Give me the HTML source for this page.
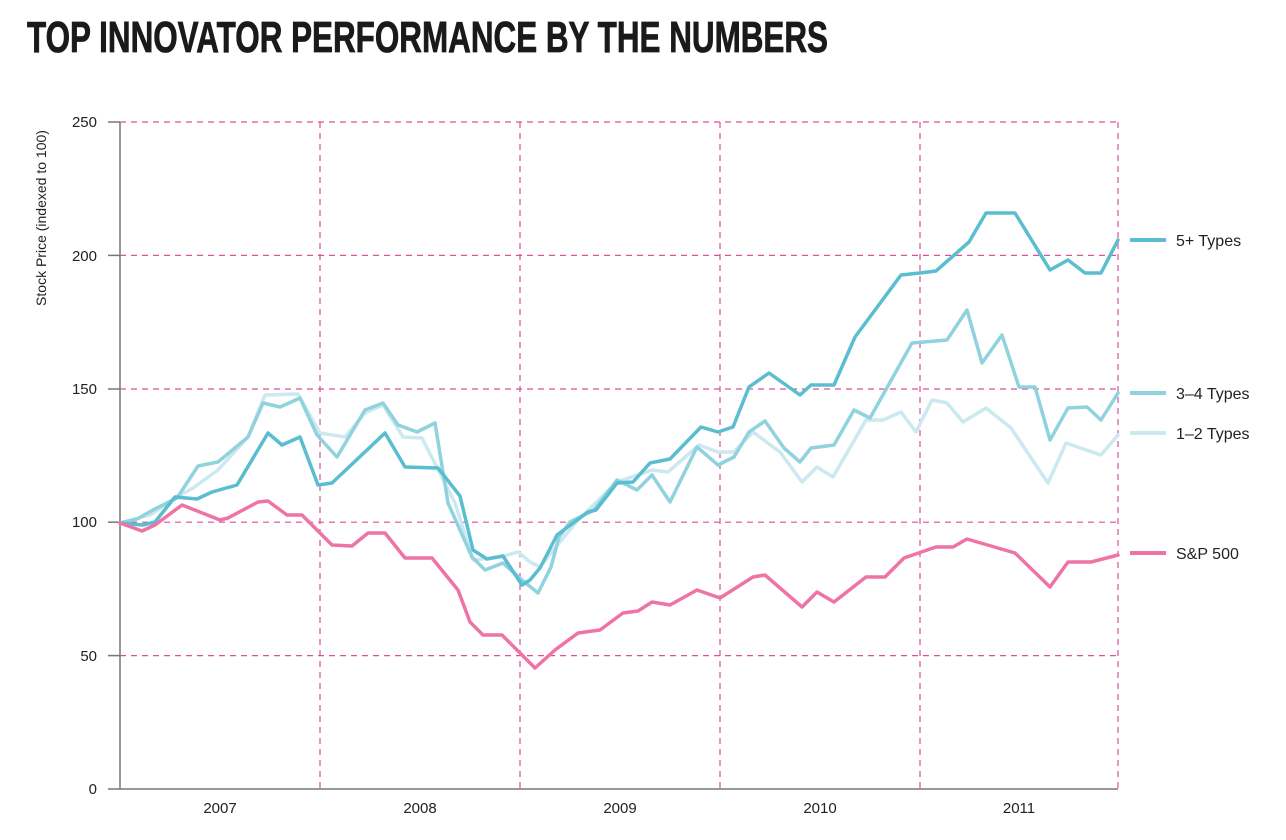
<!DOCTYPE html>
<html><head><meta charset="utf-8"><style>body{margin:0;background:#fff}svg{display:block}</style></head>
<body>
<svg width="1286" height="840" viewBox="0 0 1286 840" xmlns="http://www.w3.org/2000/svg" font-family="Liberation Sans, sans-serif">
<text x="27" y="52" font-family="Liberation Sans Narrow, Liberation Sans, sans-serif" font-weight="bold" font-size="44" fill="#1a1a1a" stroke="#1a1a1a" stroke-width="0.8" textLength="801" lengthAdjust="spacingAndGlyphs">TOP INNOVATOR PERFORMANCE BY THE NUMBERS</text>
<g stroke="#d9529a" stroke-width="1.2" stroke-dasharray="6,5" fill="none">
<line x1="120" y1="122" x2="1118" y2="122"/><line x1="120" y1="255.4" x2="1118" y2="255.4"/><line x1="120" y1="389" x2="1118" y2="389"/><line x1="120" y1="522.2" x2="1118" y2="522.2"/><line x1="120" y1="655.6" x2="1118" y2="655.6"/>
<line x1="320" y1="122" x2="320" y2="789"/><line x1="520" y1="122" x2="520" y2="789"/><line x1="720" y1="122" x2="720" y2="789"/><line x1="920" y1="122" x2="920" y2="789"/><line x1="1118" y1="122" x2="1118" y2="789"/>
</g>
<g stroke="#777" stroke-width="1.5">
<line x1="120" y1="122" x2="120" y2="789"/><line x1="120" y1="789" x2="1118" y2="789"/>
<line x1="108" y1="122" x2="120" y2="122"/><line x1="108" y1="255.4" x2="120" y2="255.4"/><line x1="108" y1="389" x2="120" y2="389"/><line x1="108" y1="522.2" x2="120" y2="522.2"/><line x1="108" y1="655.6" x2="120" y2="655.6"/><line x1="108" y1="789" x2="120" y2="789"/>
</g>
<g font-size="15" fill="#222" text-anchor="end">
<text x="97" y="127">250</text><text x="97" y="261">200</text><text x="97" y="394">150</text><text x="97" y="527">100</text><text x="97" y="661">50</text><text x="97" y="794">0</text>
</g>
<g font-size="15" fill="#222" text-anchor="middle">
<text x="220" y="813">2007</text><text x="420" y="813">2008</text><text x="620" y="813">2009</text><text x="820" y="813">2010</text><text x="1019" y="813">2011</text>
</g>
<text transform="translate(46,218) rotate(-90)" font-size="14" fill="#222" text-anchor="middle">Stock Price (indexed to 100)</text>
<g fill="none" stroke-width="3.5" stroke-linejoin="round" stroke-linecap="round">
<polyline stroke="#cbe9f0" points="120,523 150,515 177,497 193,488 218,470 248,437 265,395 298,394 320,433 345,437 365,413 383,405 403,437 422,438 455,503 473,560 500,557 518,552 530,562 540,567 559,543 578,520 617,482 652,470 668,472 699,445 718,452 734,452 753,432 780,452 802,482 817,467 833,477 866,420 883,420 901,412 916,432 932,400 947,403 963,422 986,408 1011,428 1048,483 1066,443 1101,455 1118,435"/>
<polyline stroke="#91d2df" points="120,523 137,519 153,510 177,498 198,466 218,462 248,437 263,403 280,407 300,398 317,435 337,457 365,410 383,403 398,425 417,432 435,423 448,503 472,557 485,570 503,563 522,580 538,593 551,567 559,537 570,522 594,510 617,480 637,490 652,475 670,502 697,447 718,465 734,457 749,432 765,421 784,448 800,462 811,448 834,445 854,410 870,418 912,343 947,340 967,310 982,363 1002,335 1019,387 1035,387 1050,440 1068,408 1087,407 1101,420 1118,393"/>
<polyline stroke="#5bbdd0" points="120,523 143,525 155,522 175,497 197,499 212,492 237,485 268,433 282,445 300,437 318,485 332,483 385,433 405,467 438,468 460,496 473,550 487,559 503,556 522,585 530,580 540,568 557,535 588,512 596,510 617,483 633,482 650,463 670,459 701,427 718,432 733,427 749,387 769,373 800,395 811,385 834,385 855,337 901,275 920,273 936,271 969,242 986,213 1015,213 1050,270 1068,260 1085,273 1101,273 1118,240"/>
<polyline stroke="#ef74a6" points="120,523 142,531 155,525 182,505 220,520 228,518 258,502 268,501 287,515 302,515 332,545 352,546 368,533 385,533 405,558 432,558 458,590 470,622 483,635 502,635 535,668 555,650 578,633 600,630 623,613 638,611 652,602 670,605 697,590 720,598 753,577 765,575 802,607 817,592 834,602 866,577 885,577 904,558 936,547 953,547 967,539 1015,553 1050,587 1068,562 1091,562 1118,555"/>
</g>
<g stroke-width="4">
<line x1="1130" y1="240" x2="1166" y2="240" stroke="#5bbdd0"/>
<line x1="1130" y1="393" x2="1166" y2="393" stroke="#91d2df"/>
<line x1="1130" y1="433" x2="1166" y2="433" stroke="#cbe9f0"/>
<line x1="1130" y1="553" x2="1166" y2="553" stroke="#ef74a6"/>
</g>
<g font-size="16" fill="#222">
<text x="1176" y="246">5+ Types</text><text x="1176" y="399">3–4 Types</text><text x="1176" y="439">1–2 Types</text><text x="1176" y="559">S&amp;P 500</text>
</g>
</svg>
</body></html>
